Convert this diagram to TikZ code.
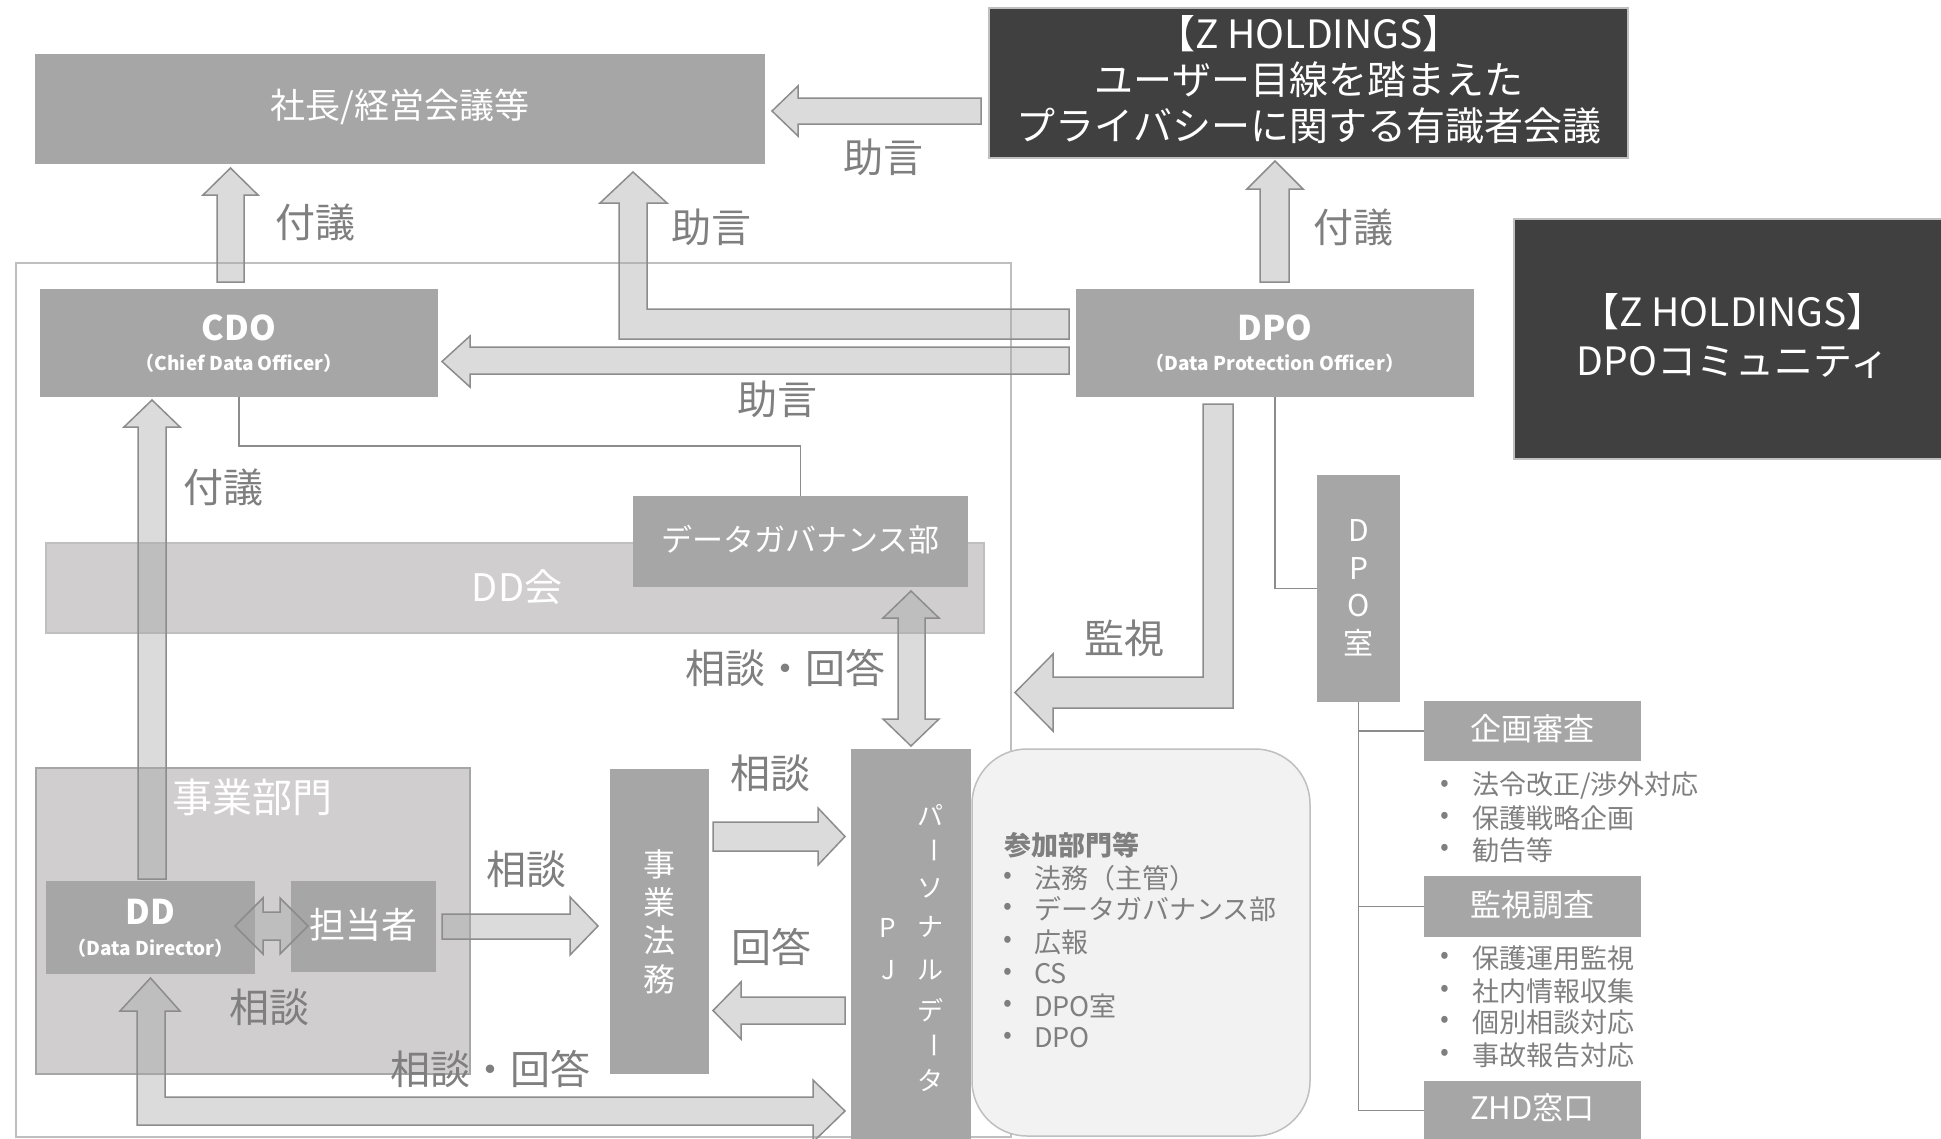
\documentclass[tikz,border=0pt]{standalone}
\usepackage{fontspec}
\setmainfont{Noto Sans CJK JP}
\definecolor{boxg}{HTML}{A6A6A6}
\definecolor{darkb}{HTML}{404040}
\definecolor{labc}{HTML}{7F7F7F}
\definecolor{ddk}{HTML}{D0CECE}
\definecolor{arrline}{HTML}{8C8C8C}
\definecolor{frameg}{HTML}{BFBFBF}
\definecolor{roundf}{HTML}{F2F2F2}
\newcommand\fs[1]{\fontsize{#1}{#1}\selectfont}
\begin{document}
\begin{tikzpicture}[x=1pt,y=-1pt,
  box/.style={fill=boxg, draw=none, text=white, inner sep=0, anchor=center},
  darkbox/.style={fill=darkb, draw=frameg, line width=2, inner sep=0},
  wtxt/.style={text=white, inner sep=0},
  lab/.style={text=labc, inner sep=0, font=\fs{40}},
  arr/.style={fill=boxg, fill opacity=0.4, draw=arrline, line width=1.5, line join=miter},
  conn/.style={draw=arrline, line width=1.5},
  btxt/.style={text=labc, inner sep=0, anchor=west, font=\fs{27}},
  bul/.style={text=labc, inner sep=0, font=\fs{26}},
]
\useasboundingbox (0,0) rectangle (1941,1138);
\clip (0,0) rectangle (1941,1138);

% outer frame
\draw[frameg, line width=1.5] (16,263) rectangle (1011,1137);

% top boxes
\node[box, minimum width=730, minimum height=110] (shacho) at (400,109) {};
\node[wtxt, font=\fs{35}] at (400,107) {社長/経営会議等};
\node[darkbox, minimum width=639, minimum height=150] (zhd1) at (1308.5,83) {};
\node[wtxt, font=\fs{39}, align=center] at (1309,80) {【Z HOLDINGS】\\[7pt]ユーザー目線を踏まえた\\[7pt]プライバシーに関する有識者会議};
\node[darkbox, minimum width=431, minimum height=240] (zhd2) at (1729.5,339) {};
\node[wtxt, font=\fs{39}, align=center] at (1733,336) {【Z HOLDINGS】\\[10pt]DPOコミュニティ};

% CDO / DPO
\node[box, minimum width=398, minimum height=108] (cdo) at (239,343) {};
\node[wtxt, font=\bfseries\fs{34}] at (239,328) {CDO};
\node[wtxt, font=\bfseries\fs{19}] at (239,363) {（Chief Data Officer）};
\node[box, minimum width=398, minimum height=108] (dpo) at (1275,343) {};
\node[wtxt, font=\bfseries\fs{34}] at (1275,328) {DPO};
\node[wtxt, font=\bfseries\fs{19}] at (1275,363) {（Data Protection Officer）};

% DD会 and data governance
\node[fill=ddk, draw=frameg, line width=1.5, minimum width=938, minimum height=90, inner sep=0] (ddkai) at (515,588) {};
\node[wtxt, font=\fs{38}] at (517,587) {DD会};
\node[box, minimum width=335, minimum height=91] (dg) at (800.5,541.5) {};
\node[wtxt, font=\fs{31}] at (800.5,540) {データガバナンス部};

% 事業部門
\node[fill=ddk, draw=boxg, line width=1.5, minimum width=434, minimum height=306, inner sep=0] (jigyo) at (253,921) {};
\node[wtxt, font=\fs{40}] at (252,797) {事業部門};

% connectors (thin)
\draw[conn] (cdo.south) -- ++(0,49) -| (dg.north);

% DPO room and tree
\node[box, minimum width=83, minimum height=227] (dposhitsu) at (1358.5,588.5) {};
\foreach \c/\yy in {D/530,P/568,O/605,室/643}{
  \node[wtxt, font=\fs{30}] at (1358.5,\yy) {\c};
}
\draw[conn] (dpo.south) |- (dposhitsu.west);
\node[box, minimum width=217, minimum height=60] (kikaku) at (1532.5,731) {};
\node[wtxt, font=\fs{31}] at (1532.5,729) {企画審査};
\node[box, minimum width=217, minimum height=61] (kanshi) at (1532.5,906.5) {};
\node[wtxt, font=\fs{31}] at (1532.5,905) {監視調査};
\node[box, minimum width=217, minimum height=59] (zhdmado) at (1532.5,1110.5) {};
\node[wtxt, font=\fs{31}] at (1532.5,1108) {ZHD窓口};
\draw[conn] (dposhitsu.south) |- (zhdmado.west);
\draw[conn] (dposhitsu.south |- kikaku.west) -- (kikaku.west);
\draw[conn] (dposhitsu.south |- kanshi.west) -- (kanshi.west);

\foreach \t/\yy in {{法令改正/渉外対応}/786,保護戦略企画/818,勧告等/850,保護運用監視/958,社内情報収集/991,個別相談対応/1022,事故報告対応/1055}{
  \node[bul] at (1445,\yy) {•};
  \node[btxt] at (1472,\yy) {\t};
}

% participating departments
\draw[fill=roundf, draw=frameg, line width=1.5, rounded corners=55] (972,749) rectangle (1310,1136);
\node[btxt, font=\bfseries\fs{27}] (sanka) at (1004,845) {参加部門等};
\foreach \t/\yy in {法務（主管）/878,データガバナンス部/909,広報/942,CS/974,DPO室/1006,DPO/1038}{
  \node[bul] at (1008,\yy) {•};
  \node[btxt] at (1034,\yy) {\t};
}

% block arrows
\draw[arr] (981,98) -- (798,98) -- (798,86) -- (772,111) -- (798,136) -- (798,124) -- (981,124) -- cycle;
\draw[arr] (217,282) -- (217,195) -- (203,195) -- (230.5,168) -- (258,195) -- (244,195) -- (244,282) -- cycle;
\draw[arr] (1069,339) -- (619,339) -- (619,203) -- (600,203) -- (633,172) -- (667,203) -- (647,203) -- (647,309) -- (1069,309) -- cycle;
\draw[arr] (1069,347) -- (470,347) -- (470,336) -- (442,361.5) -- (470,387) -- (470,374) -- (1069,374) -- cycle;
\draw[arr] (1260,282) -- (1260,189) -- (1247,189) -- (1275,161) -- (1303,189) -- (1289,189) -- (1289,282) -- cycle;
\draw[arr] (138,879) -- (138,427) -- (124,427) -- (152,400) -- (180,427) -- (166,427) -- (166,879) -- cycle;
\draw[arr] (1203,404) -- (1233,404) -- (1233,708) -- (1053,708) -- (1053,731) -- (1015,692.5) -- (1053,654) -- (1053,677) -- (1203,677) -- cycle;
\draw[arr] (898,618) -- (883,618) -- (911,591) -- (939,618) -- (925,618) -- (925,719) -- (939,719) -- (911,746) -- (883,719) -- (898,719) -- cycle;
\draw[arr] (442,914) -- (570,914) -- (570,897) -- (598,926) -- (570,955) -- (570,939) -- (442,939) -- cycle;
\draw[arr] (713,822) -- (818,822) -- (818,808) -- (845,836.5) -- (818,865) -- (818,851) -- (713,851) -- cycle;
\draw[arr] (845,997) -- (741,997) -- (741,982) -- (713,1010.5) -- (741,1039) -- (741,1024) -- (845,1024) -- cycle;
\draw[arr] (137,1011) -- (120,1011) -- (150.5,978) -- (180,1011) -- (165,1011) -- (165,1097) -- (813,1097) -- (813,1080) -- (845,1111) -- (813,1142) -- (813,1125) -- (137,1125) -- cycle;

% lower boxes
\node[box, minimum width=209, minimum height=93] (dd) at (150.5,927.5) {};
\node[wtxt, font=\bfseries\fs{34}] at (150.5,912) {DD};
\node[wtxt, font=\bfseries\fs{19}] at (150.5,948) {（Data Director）};
\node[box, minimum width=145, minimum height=91] (tanto) at (363.5,926.5) {};
\node[wtxt, font=\fs{36}] at (363.5,925) {担当者};
% double arrow DD <-> 担当者 (over the boxes)
\draw[arr] (263,912) -- (263,898) -- (235,926) -- (263,954) -- (263,940) -- (280,940) -- (280,954) -- (308,926) -- (280,898) -- (280,912) -- cycle;
\node[box, minimum width=99, minimum height=305] (homu) at (659.5,921.5) {};
\foreach \c/\yy in {事/864,業/902,法/940,務/979}{
  \node[wtxt, font=\fs{32}] at (659.5,\yy) {\c};
}
\node[box, minimum width=120, minimum height=392] (pj) at (911,945) {};
\foreach \c/\yy in {パ/815,ソ/888,ナ/927,ル/970,デ/1010,タ/1080}{
  \node[wtxt, font=\fs{26}] at (930,\yy) {\c};
}
\node[wtxt, font=\fs{26}, rotate=-90] at (930,850) {ー};
\node[wtxt, font=\fs{26}, rotate=-90] at (930,1045) {ー};
\node[wtxt, font=\fs{26}] at (888,928) {P};
\node[wtxt, font=\fs{26}] at (888,970) {J};

% labels
\node[lab] at (883,157) {助言};
\node[lab] at (315,222) {付議};
\node[lab] at (711,227) {助言};
\node[lab] at (1353,227) {付議};
\node[lab] at (777,399) {助言};
\node[lab] at (223,487) {付議};
\node[lab] at (1124,638) {監視};
\node[lab] at (785,668) {相談・回答};
\node[lab] at (770,773) {相談};
\node[lab] at (526,869) {相談};
\node[lab] at (771,947) {回答};
\node[lab] at (269,1007) {相談};
\node[lab] at (490,1069) {相談・回答};
\end{tikzpicture}
\end{document}
